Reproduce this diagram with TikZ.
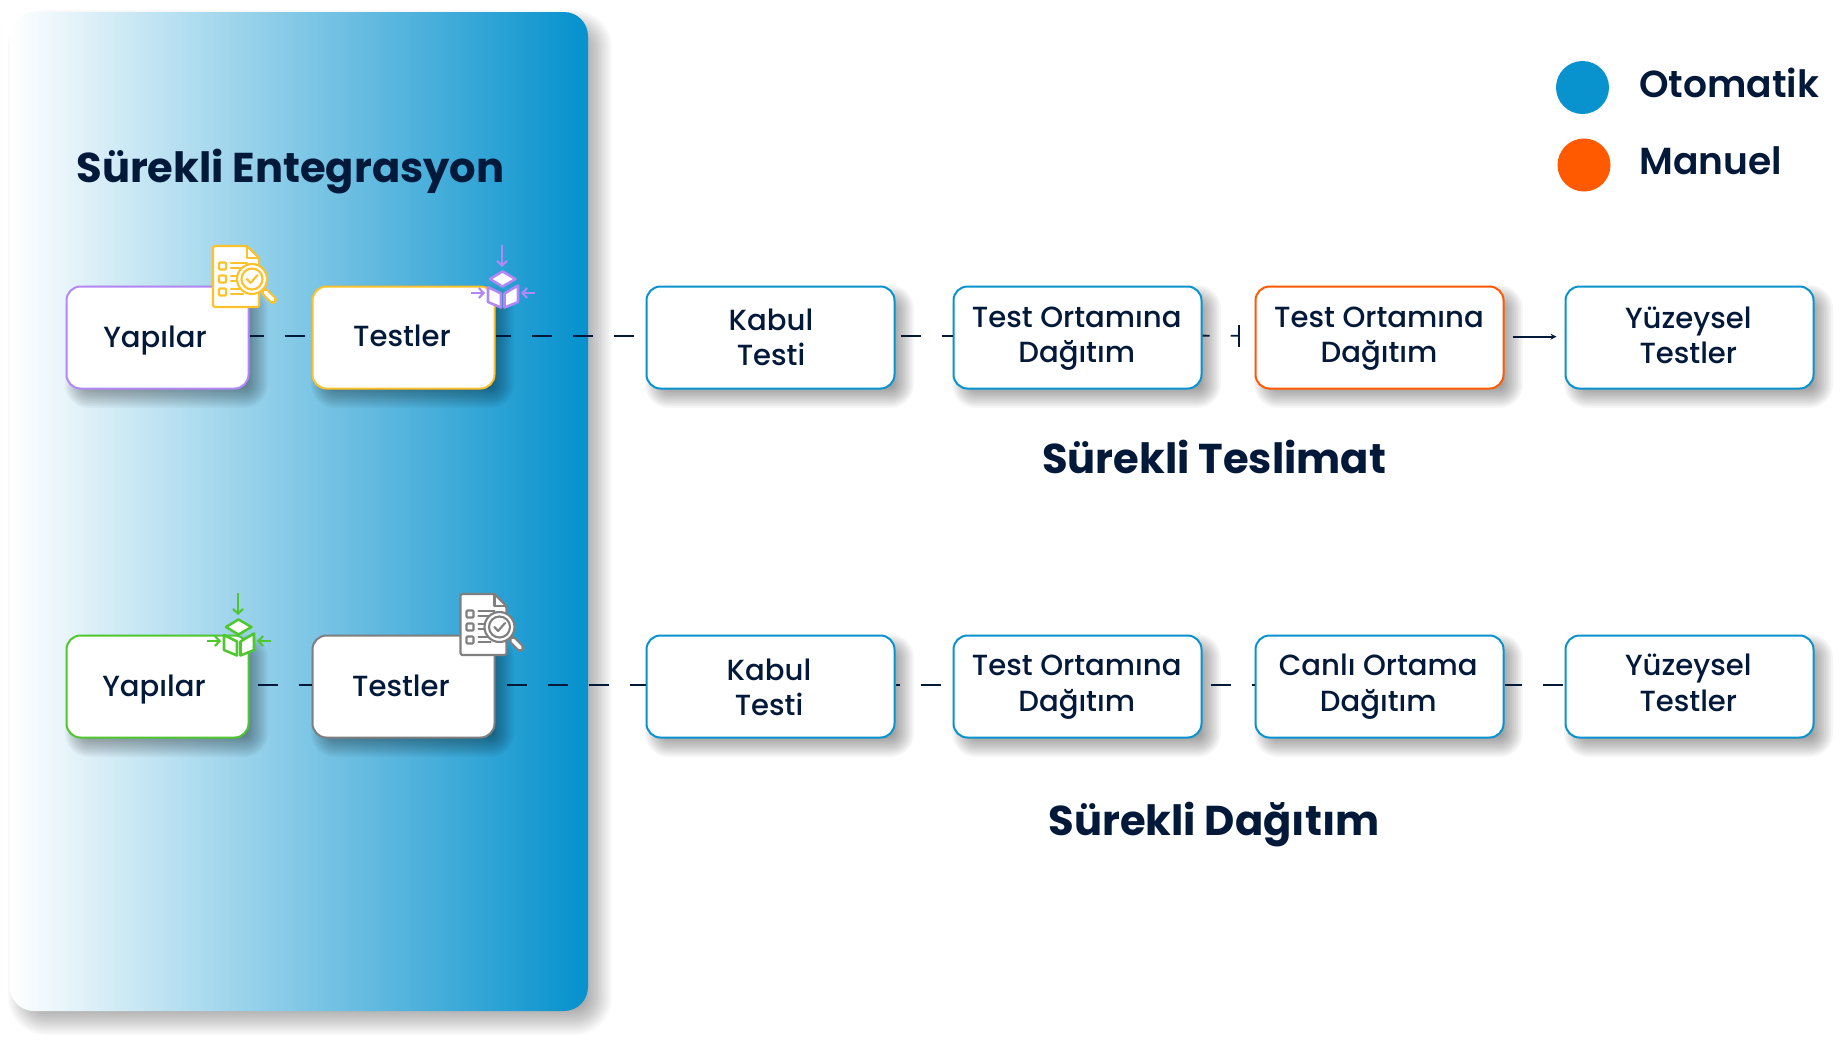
\documentclass[tikz,border=0pt]{standalone}
\usepackage{fontspec}
\usetikzlibrary{arrows.meta}
\setmainfont{Poppins}
\newfontfamily\pbold{Poppins}[UprightFont=* Bold]
\newfontfamily\psemi{Poppins}[UprightFont=* SemiBold]
\newfontfamily\pmed{Poppins}[UprightFont=* Medium]
\definecolor{navy}{HTML}{03193A}
\definecolor{cblue}{HTML}{0993CE}
\definecolor{corange}{HTML}{FF5A00}
\definecolor{cpurple}{HTML}{B388F5}
\definecolor{cyellow}{HTML}{FDC12C}
\definecolor{cgreen}{HTML}{4FC72F}
\definecolor{cgray}{HTML}{7F7F7F}
\pgfdeclarehorizontalshading{panelgrad}{100bp}{color(0bp)=(white);color(25bp)=(white);color(74bp)=(cblue);color(100bp)=(cblue)}
\tikzset{
  flowbox/.style={draw=#1,fill=white,line width=1.5pt,rounded corners=10.5pt,inner sep=0pt},
  flowtext/.style={text=navy,align=center,inner sep=0pt,font=\pmed\fontsize{21.85}{26.6}\selectfont},
  headtext/.style={text=navy,anchor=base,inner sep=0pt,font=\pbold\fontsize{31.25}{36}\selectfont},
  legendtext/.style={text=navy,anchor=base west,inner sep=0pt,font=\psemi\fontsize{28.2}{32}\selectfont},
  flowdash/.style={draw=navy,line width=1.35pt,dash pattern=on 15pt off 15.75pt,dash phase=#1},
  iconline/.style={draw=#1,line width=1.6pt,line join=round,line cap=round,fill=white},
  cubeline/.style={draw=#1,line width=1.9pt,line join=round,line cap=round,fill=white},
  iconarrow/.style={draw=#1,line width=1.6pt,-{Straight Barb[length=3.5pt,width=7.5pt,line width=1.6pt]}},
}
% soft shadow: x0 y0 x1 y1 spread offset layer-opacity
\newcommand\softshadow[7]{%
  \foreach \i in {0,...,11}{%
    \pgfmathsetmacro\sv{#5*(1-\i/5.5)}%
    \pgfmathsetmacro\rr{max(10.5+0.75*\sv,0.5)}%
    \fill[black,opacity=#7,rounded corners=\rr pt] (#1-\sv+#6,#2-\sv+#6) rectangle (#3+\sv+#6,#4+\sv+#6);
  }}
% box: name x0 y0 x1 y1 colour dx dy text
\newcommand\flowbox[9]{%
  \softshadow{#2}{#3}{#4}{#5}{10}{9}{.034}%
  \node[flowbox=#6,minimum width=(#4-#2)*0.75pt-0.75pt,minimum height=(#5-#3)*0.75pt-0.75pt,
    label={[name=#1t,flowtext,xshift=#7*0.75pt,yshift=-#8*0.75pt]center:{#9}}] (#1) at ({(#4+#2)/2},{(#5+#3)/2}) {};}
\newcommand\connect[3]{\draw[flowdash=#3] ([yshift=1.4pt]#1.east) -- ([yshift=1.4pt]#2.west);}
% document icon, offset dx dy
\newcommand\docicon[3]{\begin{scope}[shift={(#1,#2)}]
  \draw[iconline=#3,rounded corners=1.5pt] (213,246) -- (247,246) -- (259,258) -- (259,307) -- (213,307) -- cycle;
  \draw[iconline=#3,fill=none] (247,246) -- (247,258) -- (259,258);
  \foreach \yy in {266,279,292}{
    \draw[iconline=#3,rounded corners=0.7pt] (219,\yy-3.5) rectangle (226,\yy+3.5);
    \draw[iconline=#3] (231,\yy-3) -- (247,\yy-3);
    \draw[iconline=#3] (231,\yy+2) -- (243,\yy+2);
  }
  \draw[#3,line width=6pt,line cap=round] (265,292) -- (273,300);
  \draw[white,line width=2.8pt,line cap=round] (265.5,292.5) -- (272.5,299.5);
  \draw[iconline=#3] (252,279) circle (15);
  \draw[iconline=#3] (252,279) circle (10.5);
  \draw[iconline=#3,fill=none] (247,279) -- (250.5,283) -- (257.5,275);
\end{scope}}
% cube icon, offset dx dy
\newcommand\cubeicon[3]{\begin{scope}[shift={(#1,#2)}]
  \draw[iconarrow=#3] (502,245) -- (502,267);
  \draw[iconarrow=#3] (471,293) -- (485,293);
  \draw[iconarrow=#3] (535,293) -- (521,293);
  \draw[cubeline=#3] (490,279) -- (502.5,271.5) -- (515.5,279) -- (502.5,286.5) -- cycle;
  \draw[cubeline=#3] (488,287) -- (501,293.5) -- (501,307.5) -- (488,302) -- cycle;
  \draw[cubeline=#3] (504.5,293.5) -- (518,285.5) -- (518,302) -- (504.5,307.5) -- cycle;
\end{scope}}
\begin{document}
\begin{tikzpicture}[x=0.75pt,y=-0.75pt]
\useasboundingbox (0,0) rectangle (1847,1040);
\fill[white] (0,0) rectangle (1847,1040);
% panel
\foreach \i in {0,...,15}{%
  \pgfmathsetmacro\sv{14*(1-\i/7.5)}%
  \pgfmathsetmacro\rr{max(18+0.75*\sv,0.5)}%
  \fill[black,opacity=.025,rounded corners=\rr pt] (10-\sv+12,12-\sv+12) rectangle (588+\sv+10,1011+\sv+10);
}
\path[shading=panelgrad,rounded corners=18pt] (10,12) rectangle (588,1011);
% titles
\node[headtext] (ci) at (290.5,182) {Sürekli Entegrasyon};
\node[headtext] (cd) at (1214,473) {Sürekli Teslimat};
\node[headtext] (cdp) at (1214,835) {Sürekli Dağıtım};
% legend
\fill[cblue] (1582.5,87.5) circle (26.5);
\fill[corange] (1584,165) circle (26.5);
\node[legendtext] (lo) at (1639,97.5) {Otomatik};
\node[legendtext] (lm) at (1639,174) {Manuel};
% row 1
\flowbox{ay}{66}{286}{249}{389}{cpurple}{-2.5}{2.4}{\strut Yapılar}
\flowbox{at}{312}{286}{495}{389}{cyellow}{-1.5}{1.4}{\strut Testler}
\flowbox{ak}{646}{286}{895}{389}{cblue}{.5}{3.3}{\strut Kabul\\\strut Testi}
\flowbox{ad}{953}{286}{1202}{389}{cblue}{-.8}{.6}{\strut Test Ortamına\\\strut Dağıtım}
\flowbox{ao}{1255}{286}{1504}{389}{corange}{-.5}{.6}{\strut Test Ortamına\\\strut Dağıtım}
\flowbox{as}{1565}{286}{1814}{389}{cblue}{-1.2}{1.3}{\strut Yüzeysel\\\strut Testler}
% row 2
\flowbox{by}{66}{635}{249}{738}{cgreen}{-3.5}{3}{\strut Yapılar}
\flowbox{bt}{312}{635}{495}{738}{cgray}{-2.5}{2.4}{\strut Testler}
\flowbox{bk}{646}{635}{895}{738}{cblue}{-1.5}{4.3}{\strut Kabul\\\strut Testi}
\flowbox{bd}{953}{635}{1202}{738}{cblue}{-.8}{0}{\strut Test Ortamına\\\strut Dağıtım}
\flowbox{bc}{1255}{635}{1504}{738}{cblue}{-1.2}{0}{\strut Canlı Ortama\\\strut Dağıtım}
\flowbox{bs}{1565}{635}{1814}{738}{cblue}{-1.2}{0}{\strut Yüzeysel\\\strut Testler}
% connectors row 1
\connect{ay}{at}{4.5pt}
\connect{at}{ak}{3.75pt}
\connect{ak}{ad}{27pt}
\coordinate (tickend) at (1239,335.7);
\draw[flowdash=9.75pt] ([yshift=1.4pt]ad.east) -- (tickend);
\draw[navy,line width=.9pt] (1239,325) -- (1239,347);
\draw[navy,line width=1.35pt,shorten <=6pt,shorten >=6pt,-{Stealth[length=4.5pt,width=4.5pt]}] ([yshift=.6pt]ao.east) -- ([yshift=.6pt]as.west);
% connectors row 2
\connect{by}{bt}{24.75pt}
\connect{bt}{bk}{22.5pt}
\connect{bk}{bd}{12pt}
\connect{bd}{bc}{24.75pt}
\connect{bc}{bs}{2.25pt}
% icons
\docicon{0}{0}{cyellow}
\cubeicon{0}{0}{cpurple}
\cubeicon{-264}{348}{cgreen}
\docicon{247.5}{348}{cgray}
\end{tikzpicture}
\end{document}
